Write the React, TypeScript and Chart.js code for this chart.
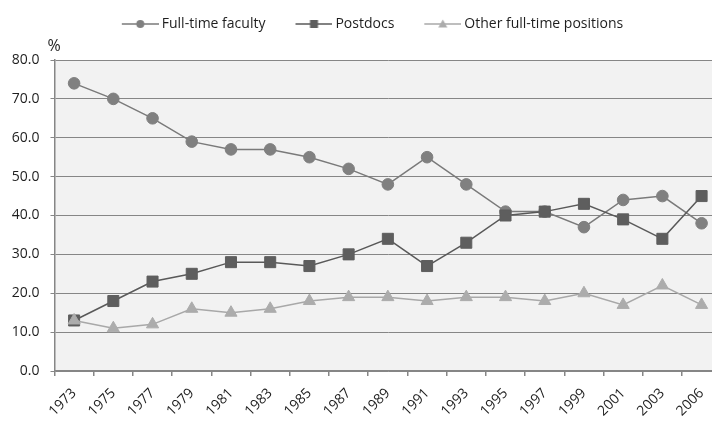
import React, { useEffect, useRef } from "react";
import { Chart, registerables } from "chart.js";

Chart.register(...registerables);

const years = ["1973", "1975", "1977", "1979", "1981", "1983", "1985", "1987", "1989", "1991", "1993", "1995", "1997", "1999", "2001", "2003", "2006"];
const faculty = [74, 70, 65, 59, 57, 57, 55, 52, 48, 55, 48, 41, 41, 37, 44, 45, 38];
const postdocs = [13, 18, 23, 25, 28, 28, 27, 30, 34, 27, 33, 40, 41, 43, 39, 34, 45];
const otherPositions = [13, 11, 12, 16, 15, 16, 18, 19, 19, 18, 19, 19, 18, 20, 17, 22, 17];
const seriesNames = ["Full-time faculty", "Postdocs", "Other full-time positions"];
const yMin = 0;
const yMax = 80;
const yStep = 10;
const unitLabel = "%";

const FONT = "'Open Sans', Lato, sans-serif";
const GRID = "#868686";
const TEXT = "#1e1e1e";
const colors = {
  faculty: { line: "#7a7a7a", point: "#808080" },
  postdocs: { line: "#595959", point: "#5e5e5e" },
  other: { line: "#a8a8a8", point: "#acacac" },
};

const CANVAS_W = 730;
const CANVAS_H = 421;
const PAD_L = 9;
const PAD_R = 8;
const PAD_T = 1;
const AREA_LEFT = 54.5;
const X_AXIS_H = 50;
const LEGEND_PAD = 16;
const LEGEND_EXTRA = 19;

function legendIcon(style: string, lineColor: string, pointColor: string) {
  const c = document.createElement("canvas");
  c.width = 55;
  c.height = 14;
  const ctx = c.getContext("2d")!;
  ctx.strokeStyle = lineColor;
  ctx.lineWidth = 1.5;
  ctx.beginPath();
  ctx.moveTo(18, 7);
  ctx.lineTo(55, 7);
  ctx.stroke();
  const cx = 36.5;
  const cy = 7;
  ctx.fillStyle = pointColor;
  ctx.beginPath();
  if (style === "circle") {
    ctx.arc(cx, cy, 4, 0, Math.PI * 2);
  } else if (style === "rect") {
    ctx.rect(cx - 4, cy - 4, 8, 8);
  } else {
    ctx.moveTo(cx, cy - 4.5);
    ctx.lineTo(cx + 4.5, cy + 3.5);
    ctx.lineTo(cx - 4.5, cy + 3.5);
    ctx.closePath();
  }
  ctx.fill();
  return c;
}

const bgPlugin = {
  id: "plotBg",
  beforeLayout(chart: any) {
    const lg = chart.legend;
    if (lg && !lg.__patched) {
      const orig = lg.fit;
      lg.fit = function () {
        orig.call(this);
        this.height += LEGEND_EXTRA;
      };
      lg.__patched = true;
    }
  },
  beforeDraw(chart: any) {
    const { ctx, chartArea } = chart;
    ctx.save();
    ctx.fillStyle = "#f2f2f2";
    ctx.fillRect(chartArea.left, chartArea.top, chartArea.right - chartArea.left, chartArea.bottom - chartArea.top);
    ctx.restore();
  },
  afterDraw(chart: any) {
    const { ctx, chartArea } = chart;
    ctx.save();
    ctx.fillStyle = TEXT;
    ctx.font = `16px ${FONT}`;
    ctx.textBaseline = "alphabetic";
    ctx.textAlign = "left";
    ctx.fillText(unitLabel, chartArea.left - 7, chartArea.top - 9);
    ctx.restore();
  },
};

export default function App() {
  const ref = useRef<HTMLCanvasElement | null>(null);

  useEffect(() => {
    if (!ref.current) return;
    const icons = [
      legendIcon("circle", colors.faculty.line, colors.faculty.point),
      legendIcon("rect", colors.postdocs.line, colors.postdocs.point),
      legendIcon("triangle", colors.other.line, colors.other.point),
    ];
    const chart = new Chart(ref.current, {
      type: "line",
      data: {
        labels: years,
        datasets: [
          {
            label: seriesNames[0],
            data: faculty,
            borderColor: colors.faculty.line,
            backgroundColor: colors.faculty.point,
            borderWidth: 1.5,
            pointStyle: "circle",
            pointRadius: 5.8,
            pointBackgroundColor: colors.faculty.point,
            pointBorderColor: colors.faculty.point,
            pointBorderWidth: 1,
            order: 2,
          },
          {
            label: seriesNames[1],
            data: postdocs,
            borderColor: colors.postdocs.line,
            backgroundColor: colors.postdocs.point,
            borderWidth: 1.5,
            pointStyle: "rect",
            pointRadius: 7.8,
            pointBackgroundColor: colors.postdocs.point,
            pointBorderColor: colors.postdocs.point,
            pointBorderWidth: 1,
            order: 1,
          },
          {
            label: seriesNames[2],
            data: otherPositions,
            borderColor: colors.other.line,
            backgroundColor: colors.other.point,
            borderWidth: 1.5,
            pointStyle: "triangle",
            pointRadius: 7,
            pointBackgroundColor: colors.other.point,
            pointBorderColor: colors.other.point,
            pointBorderWidth: 1,
            order: 0,
          },
        ],
      },
      options: {
        responsive: false,
        animation: false,
        events: [],
        layout: { padding: { left: PAD_L, right: PAD_R, top: PAD_T, bottom: 0 } },
        plugins: {
          tooltip: { enabled: false },
          legend: {
            display: true,
            position: "top",
            labels: {
              usePointStyle: true,
              pointStyleWidth: 47,
              padding: LEGEND_PAD,
              color: TEXT,
              font: { family: FONT, size: 14 },
              generateLabels: (ch: any) =>
                ch.data.datasets.map((ds: any, i: number) => ({
                  text: ds.label,
                  datasetIndex: i,
                  pointStyle: icons[i],
                  fillStyle: "transparent",
                  strokeStyle: "transparent",
                  lineWidth: 0,
                  hidden: false,
                  fontColor: TEXT,
                })),
            },
          },
        },
        scales: {
          x: {
            type: "category",
            offset: true,
            grid: {
              offset: true,
              drawOnChartArea: false,
              drawTicks: true,
              tickLength: 5,
              color: GRID,
              lineWidth: 1.5,
            },
            border: { display: true, color: GRID, width: 1.5 },
            ticks: {
              autoSkip: false,
              minRotation: 45,
              maxRotation: 45,
              color: TEXT,
              padding: 9,
              font: { family: FONT, size: 14 },
            },
            afterFit: (scale: any) => {
              scale.height = X_AXIS_H;
            },
          },
          y: {
            min: yMin,
            max: yMax,
            grid: {
              color: GRID,
              lineWidth: 1,
              tickLength: 4,
              drawTicks: true,
            },
            border: { display: true, color: GRID, width: 1.5 },
            ticks: {
              stepSize: yStep,
              color: TEXT,
              padding: 11,
              font: { family: FONT, size: 14 },
              callback: (v: any) => Number(v).toFixed(1),
            },
            afterFit: (scale: any) => {
              scale.width = AREA_LEFT - PAD_L;
            },
          },
        },
      },
      plugins: [bgPlugin],
    });
    return () => chart.destroy();
  }, []);

  return (
    <div
      style={{
        position: "fixed",
        left: 0,
        top: 0,
        width: 712,
        height: 421,
        overflow: "hidden",
        background: "#ffffff",
      }}
    >
      <canvas ref={ref} width={CANVAS_W} height={CANVAS_H} style={{ display: "block" }} />
    </div>
  );
}
